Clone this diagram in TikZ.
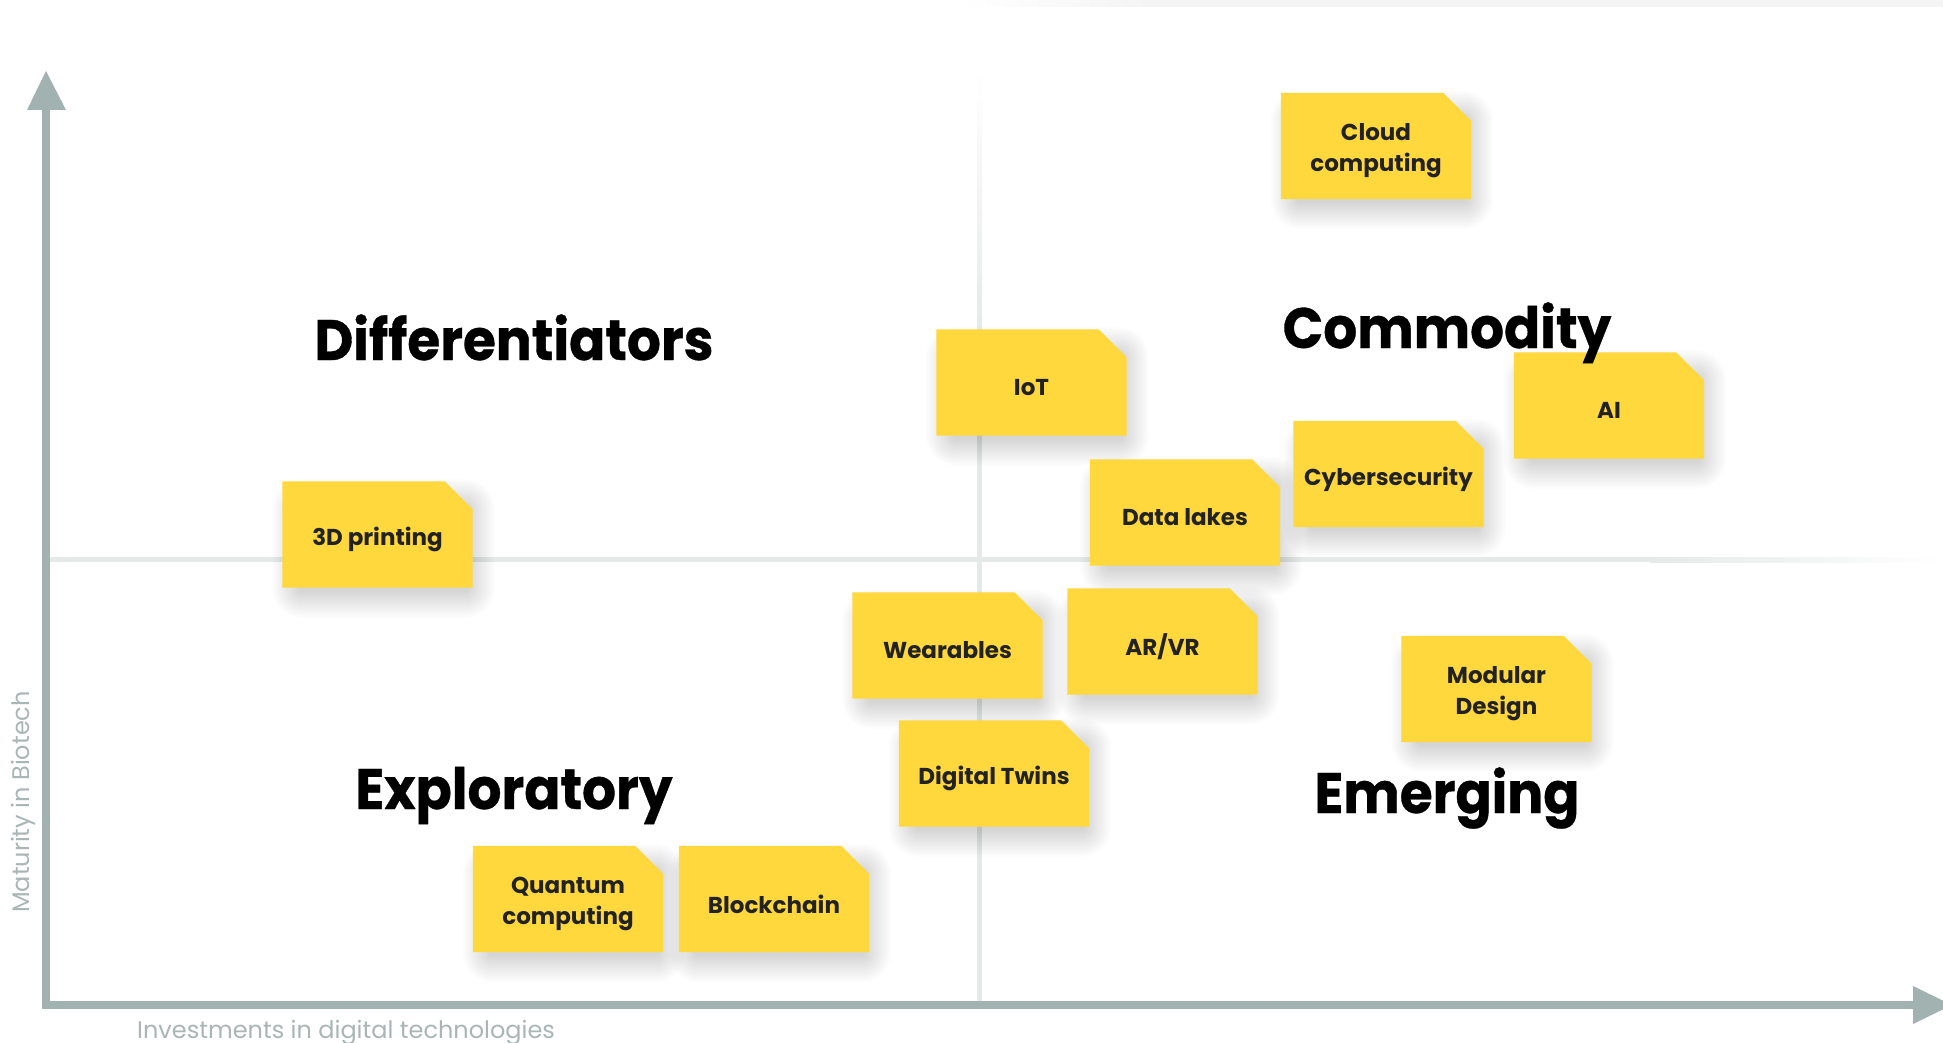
\documentclass[tikz,border=0pt]{standalone}
\usepackage{fontspec}
\setmainfont{Poppins}
\newfontfamily\headfont{Poppins}[FakeStretch=0.935, FakeBold=0.6]
\pgfdeclarelayer{bg}
\pgfdeclarelayer{sh}
\pgfdeclarelayer{fl}
\pgfsetlayers{bg,sh,fl,main}
\definecolor{stickyc}{HTML}{FFD83D}
\definecolor{textc}{HTML}{222222}
\definecolor{axisc}{HTML}{A2B2B1}
\definecolor{labelc}{HTML}{A9B6B5}
\definecolor{gridc}{HTML}{E5EAE9}
\definecolor{bandc}{HTML}{F4F4F4}
\tikzset{
  sticky/.style={rectangle, minimum width=190pt, minimum height=106pt, inner sep=0pt},
  stickytext/.style={align=center, text=textc, inner sep=0pt, yshift=-5pt,
    font=\fontsize{23}{31}\selectfont\bfseries},
  heading/.style={anchor=base, text=black, font=\fontsize{57}{60}\selectfont\headfont\bfseries, inner sep=0pt},
  axislabel/.style={text=labelc, font=\fontsize{24}{26}\selectfont, inner sep=0pt},
  shadowlayer/.style={fill=black, opacity=0.011}
}
\begin{document}
\begin{tikzpicture}[x=1pt,y=-1pt]
\useasboundingbox (0,0) rectangle (1943,1043);
\clip (0,0) rectangle (1943,1043);
\begin{pgfonlayer}{bg}
\fill[white] (0,0) rectangle (1943,1043);
% top band
\shade[left color=white, right color=bandc] (960,0) rectangle (1150,7);
\fill[bandc] (1150,0) rectangle (1943,7);
% quadrant lines
\shade[top color=white, bottom color=gridc] (977,70) rectangle (982,330);
\fill[gridc] (977,330) rectangle (982,1001);
\fill[gridc] (50,557) rectangle (1650,562);
\shade[left color=gridc, right color=white] (1650,557) rectangle (1943,562);
% axes
\coordinate (origin) at (46,1005);
\coordinate (ytip) at (46,71);
\coordinate (xtip) at (1952,1005);
\fill[axisc] (42,110) rectangle (50,1009);
\fill[axisc] (27,110) -- (66,110) -- (ytip) -- cycle;
\fill[axisc] (42,1001) rectangle (1913,1009);
\fill[axisc] (1913,986) -- (1913,1024) -- (xtip) -- cycle;
\end{pgfonlayer}
\node[axislabel, rotate=90] (ylab) at (23,802) {Maturity in Biotech};
\node[axislabel, anchor=base west] (xlab) at (137,1038) {Investments in digital technologies};
% headings
\node[heading] (diff) at (514,360) {Differentiators};
\node[heading] (comm) at (1447,348) {Commodity};
\node[heading] (expl) at (514,809) {Exploratory};
\node[heading] (emer) at (1447,813) {Emerging};
% stickies
\node[sticky, label={[stickytext]center:Cloud\\computing}] (cloud) at (1376,146) {};
\node[sticky, label={[stickytext]center:IoT}] (iot) at (1031.5,382.5) {};
\node[sticky, label={[stickytext]center:AI}] (ai) at (1609,405.5) {};
\node[sticky, label={[stickytext]center:Cybersecurity}] (cyber) at (1388.5,474) {};
\node[sticky, label={[stickytext]center:Data lakes}] (lakes) at (1185,512.5) {};
\node[sticky, label={[stickytext]center:3D printing}] (print) at (377.5,534.5) {};
\node[sticky, label={[stickytext]center:Wearables}] (wear) at (947.5,645.5) {};
\node[sticky, label={[stickytext]center:AR/VR}] (arvr) at (1162.5,641.5) {};
\node[sticky, label={[stickytext]center:Modular\\Design}] (modular) at (1496.5,689) {};
\node[sticky, label={[stickytext]center:Digital Twins}] (twins) at (994,773.5) {};
\node[sticky, label={[stickytext]center:Quantum\\computing}] (quantum) at (568,899) {};
\node[sticky, label={[stickytext]center:Blockchain}] (block) at (774,899) {};
% paper shapes and soft shadows
\foreach \n in {cloud,iot,ai,cyber,lakes,print,wear,arvr,modular,twins,quantum,block}{
  \begin{pgfonlayer}{fl}
    \fill[stickyc] (\n.south west) -- (\n.north west) -- ([xshift=-28pt]\n.north east)
      -- ([yshift=-28pt]\n.north east) -- (\n.south east) -- cycle;
  \end{pgfonlayer}
  \begin{pgfonlayer}{sh}
  \foreach \s in {0,2,...,26}{
    \fill[shadowlayer, rounded corners={\s*1pt+4pt}]
      ([xshift={16pt-\s*1pt}, yshift={-4pt-\s*1pt}]\n.south west) rectangle
      ([xshift={-4pt+\s*1pt}, yshift={-24pt+\s*1pt}]\n.north east);
  }
  \end{pgfonlayer}
}
\end{tikzpicture}
\end{document}
